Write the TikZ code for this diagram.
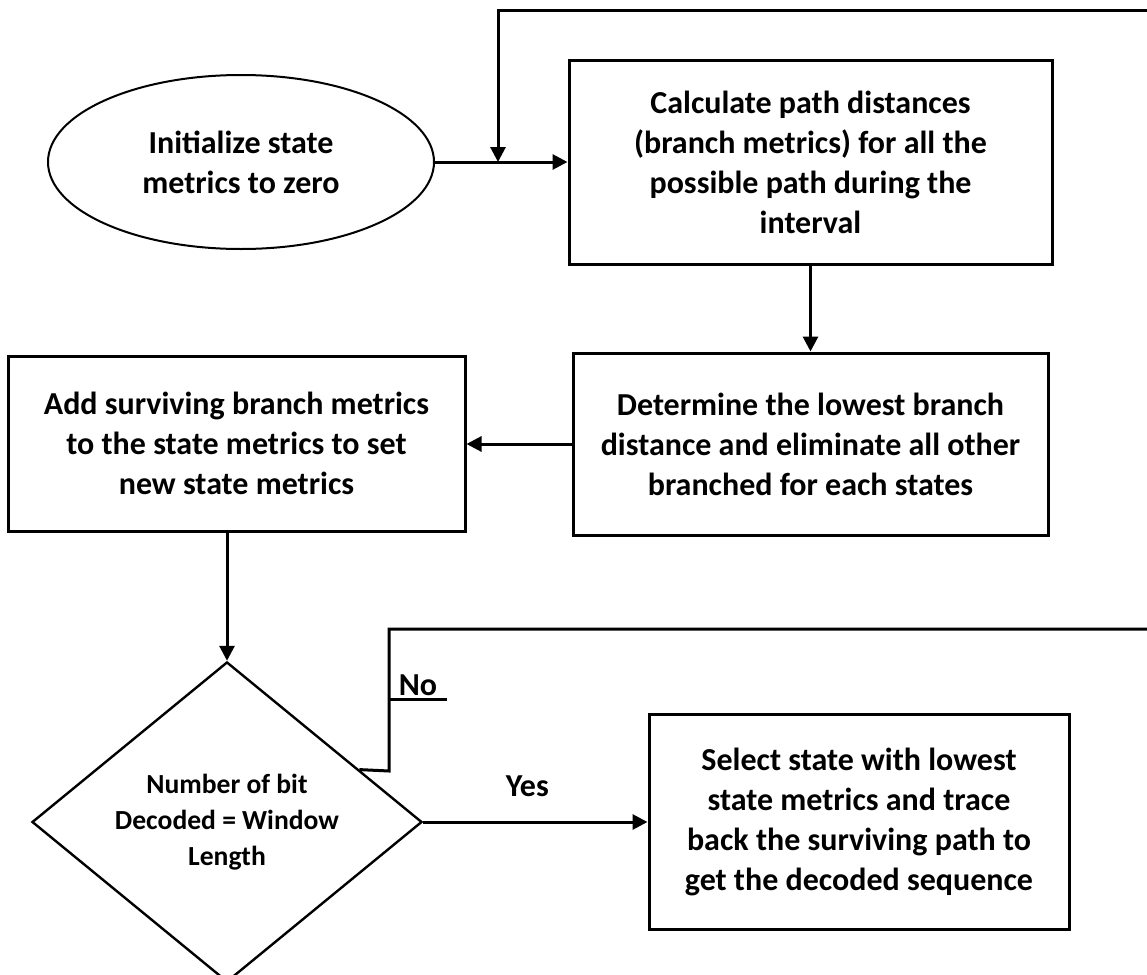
\documentclass[tikz,border=0pt]{standalone}
\usepackage{fontspec}
\setmainfont{Carlito}
\usepackage{tikz}
\usetikzlibrary{positioning,shapes.geometric,arrows.meta,calc}

\begin{document}
\begin{tikzpicture}[x=0.5pt,y=-0.5pt]

\tikzstyle{flowbox} = [draw, line width=1.5pt, align=center, inner sep=0pt, font=\fontsize{16}{20}\selectfont\bfseries]
\tikzstyle{startbox} = [flowbox, ellipse, line width=1pt, minimum width=193pt, minimum height=87pt]
\tikzstyle{decbox} = [flowbox, diamond, line width=1.2pt, minimum width=195pt, minimum height=157pt, font=\fontsize{13.8}{18}\selectfont\bfseries]
\tikzstyle{flowline} = [line width=1.5pt, -{Triangle[length=7.5pt,width=7.5pt]}]
\tikzstyle{plainline} = [line width=1.5pt]
\tikzstyle{lbl} = [font=\fontsize{16}{20}\selectfont\bfseries, inner sep=0pt]

\newcommand{\stepnode}[4]{node (#1) [flowbox, minimum width=#2, minimum height=#3] {#4}}

\useasboundingbox (0,0) rectangle (1147,975);

\path (241,162) node (init) [startbox] {Initialize state\\metrics to zero};
\path (810.5,162) \stepnode{calc}{241.5pt}{102pt}{Calculate path distances\\(branch metrics) for all the\\possible path during the\\interval};
\path (810.5,444) \stepnode{det}{237.5pt}{91pt}{Determine the lowest branch\\distance and eliminate all other\\branched for each states};
\path (236.5,443.5) \stepnode{add}{228.5pt}{87.5pt}{Add surviving branch metrics\\to the state metrics to set\\new state metrics};
\path (227,822) node (dec) [decbox] {Number of bit\\Decoded = Window\\Length};
\path (859,822) \stepnode{sel}{210pt}{107.5pt}{Select state with lowest\\state metrics and trace\\back the surviving path to\\get the decoded sequence};

% loop ends leaving the picture on the right
\coordinate (loopin) at (1147,10);
\coordinate (loopout) at (1147,629);
\coordinate (nofork) at ($(dec.north)!0.675!(dec.east)$);

\draw[flowline] (init.east) -- (calc.west);
\draw[flowline] (loopin) -- (498,10) -- (498,162);
\draw[flowline] (calc.south) -- (det.north);
\draw[flowline] (det.west) -- (det.west -| add.east);
\draw[flowline] (add.south -| dec.north) -- (dec.north);
\draw[flowline] (dec.east) -- node[lbl, above=12pt, xshift=-4pt] (yes) {Yes} (sel.west);

\draw[plainline] (nofork) -- (389,771) -- (389,629) -- (loopout);
\draw[plainline] (389,699) -- (447,699);
\path (418,685) node (no) [lbl] {No};

\end{tikzpicture}
\end{document}
